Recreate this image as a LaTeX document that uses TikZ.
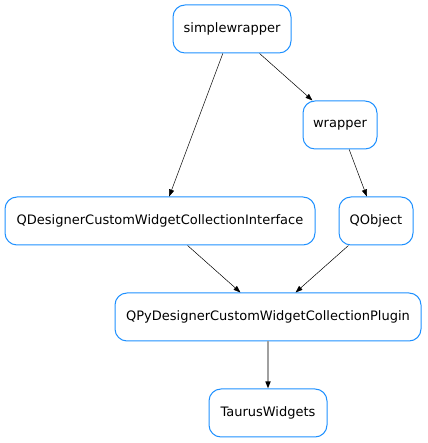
\documentclass[tikz,border=0pt]{standalone}
\usepackage{fontspec}
\setmainfont{DejaVu Sans}
\usetikzlibrary{arrows.meta}
\definecolor{nodeblue}{RGB}{30,144,255}
\definecolor{edgegray}{RGB}{160,160,160}
\tikzset{
  cls/.style={draw=nodeblue, line width=1pt, rounded corners=12pt, minimum height=48pt, inner sep=0pt, font=\fontsize{13}{15}\selectfont},
  inh/.style={draw=black, line width=0.5pt, -{Triangle[length=7pt,width=5pt]}},
  inhgray/.style={draw=edgegray, line width=1.5pt, -{Triangle[length=7pt,width=5pt,color=black]}}
}
\begin{document}
\begin{tikzpicture}[x=1pt,y=1pt]
\useasboundingbox (0,0) rectangle (427,443);
\node[cls, minimum width=118pt] (sw) at (232,414) {simplewrapper};
\node[cls, minimum width=74pt] (w) at (340,318) {wrapper};
\node[cls, minimum width=310pt] (qd) at (160,222) {QDesignerCustomWidgetCollectionInterface};
\node[cls, minimum width=74pt] (qo) at (376,222) {QObject};
\node[cls, minimum width=306pt] (qp) at (268,126) {QPyDesignerCustomWidgetCollectionPlugin};
\node[cls, minimum width=118pt] (tw) at (268,30) {TaurusWidgets};
\draw[inh] (sw) -- (qd);
\draw[inh] (sw) -- (w);
\draw[inh] (w) -- (qo);
\draw[inh] (qd) -- (qp);
\draw[inh] (qo) -- (qp);
\draw[inhgray] (qp) -- (tw);
\end{tikzpicture}
\end{document}
